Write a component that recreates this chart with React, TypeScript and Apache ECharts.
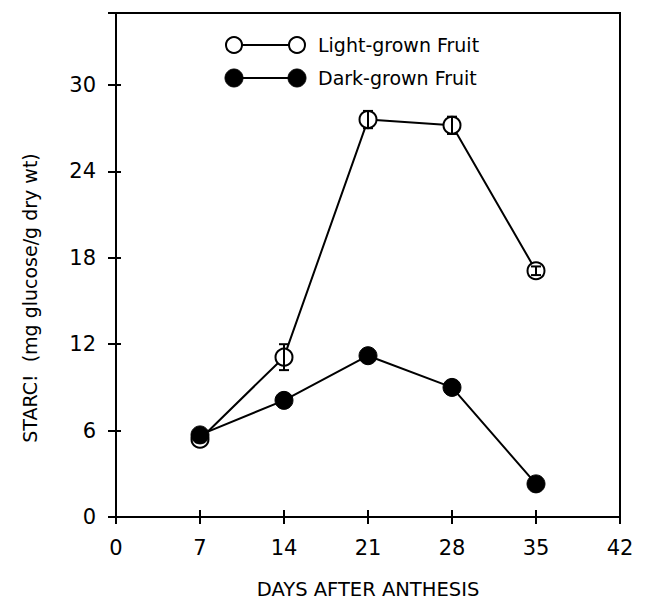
import React, { useEffect, useRef } from "react";
import * as echarts from "echarts";

const days = [7, 14, 21, 28, 35];
const lightValues = [5.4, 11.1, 27.6, 27.2, 17.1];
const lightErrors = [0.2, 0.9, 0.6, 0.6, 0.3];
const darkValues = [5.7, 8.1, 11.2, 9.0, 2.3];
const xTicks = [0, 7, 14, 21, 28, 35, 42];
const yTicks = [0, 6, 12, 18, 24, 30];

const FONT = "DejaVu Sans";

export default function App() {
  const ref = useRef<HTMLDivElement>(null);
  useEffect(() => {
    if (!ref.current) return;
    const chart = echarts.init(ref.current, null, { renderer: "svg" });
    const lightData = days.map((d, i) => [d, lightValues[i]]);
    const darkData = days.map((d, i) => [d, darkValues[i]]);
    const errData = days.map((d, i) => [d, lightValues[i] - lightErrors[i], lightValues[i] + lightErrors[i]]);
    const axisLine = { show: true, lineStyle: { color: "#000", width: 2 } };
    const xBase = {
      type: "value",
      min: 0,
      max: 42,
      interval: 7,
      gridIndex: 0,
      position: "bottom",
      splitLine: { show: false },
      axisLine,
    };
    const yBase = {
      type: "value",
      min: 0,
      max: 35,
      interval: 6,
      position: "left",
      splitLine: { show: false },
      axisLine,
    };
    chart.setOption({
      animation: false,
      backgroundColor: "#fff",
      grid: {
        left: 116,
        right: 25,
        top: 13,
        bottom: 85,
        show: true,
        borderColor: "#000",
        borderWidth: 2,
        outerBoundsMode: "none",
        containLabel: false,
      },
      xAxis: [
        {
          ...xBase,
          axisTick: { show: true, length: 7, lineStyle: { color: "#000", width: 2 } },
          axisLabel: {
            show: true,
            color: "#000",
            fontFamily: FONT,
            fontSize: 21,
            margin: 20,
            formatter: (v: number) => (xTicks.includes(v) ? String(v) : ""),
          },
          name: "DAYS AFTER ANTHESIS",
          nameLocation: "middle",
          nameGap: 62,
          nameTextStyle: { color: "#000", fontFamily: FONT, fontSize: 19.5 },
        },
        {
          ...xBase,
          axisTick: { show: true, inside: true, length: 7, lineStyle: { color: "#000", width: 2 } },
          axisLabel: { show: false },
        },
      ],
      yAxis: [
        {
          ...yBase,
          axisTick: { show: true, length: 8, lineStyle: { color: "#000", width: 2 } },
          axisLabel: {
            show: true,
            color: "#000",
            fontFamily: FONT,
            fontSize: 21,
            margin: 20,
            formatter: (v: number) => (yTicks.includes(v) ? String(v) : ""),
          },
        },
        {
          ...yBase,
          axisTick: { show: true, inside: true, length: 5, lineStyle: { color: "#000", width: 2 } },
          axisLabel: { show: false },
        },
      ],
      graphic: [
        {
          type: "text",
          x: 30,
          y: 298,
          rotation: Math.PI / 2,
          style: {
            text: "STARC!  (mg glucose/g dry wt)",
            fill: "#000",
            font: `19px "${FONT}"`,
            align: "center",
            verticalAlign: "middle",
          },
        },
        { type: "line", shape: { x1: 240, y1: 45, x2: 290, y2: 45 }, style: { stroke: "#000", lineWidth: 2 } },
        { type: "circle", shape: { cx: 234, cy: 45, r: 8 }, style: { fill: "#fff", stroke: "#000", lineWidth: 2 } },
        { type: "circle", shape: { cx: 297, cy: 45, r: 8 }, style: { fill: "#fff", stroke: "#000", lineWidth: 2 } },
        {
          type: "text",
          x: 318,
          y: 45,
          style: { text: "Light-grown Fruit", fill: "#000", font: `19px "${FONT}"`, verticalAlign: "middle" },
        },
        { type: "line", shape: { x1: 240, y1: 78, x2: 290, y2: 78 }, style: { stroke: "#000", lineWidth: 2 } },
        { type: "circle", shape: { cx: 234, cy: 78, r: 9 }, style: { fill: "#000", stroke: "#000", lineWidth: 1 } },
        { type: "circle", shape: { cx: 297, cy: 78, r: 9 }, style: { fill: "#000", stroke: "#000", lineWidth: 1 } },
        {
          type: "text",
          x: 318,
          y: 78,
          style: { text: "Dark-grown Fruit", fill: "#000", font: `19px "${FONT}"`, verticalAlign: "middle" },
        },
      ],
      series: [
        {
          name: "Light-grown Fruit",
          type: "line",
          data: lightData,
          symbol: "circle",
          symbolSize: 17,
          lineStyle: { color: "#000", width: 2 },
          itemStyle: { color: "#fff", borderColor: "#000", borderWidth: 2 },
          z: 2,
        },
        {
          name: "err",
          type: "custom",
          data: errData,
          z: 3,
          renderItem: (params: any, api: any) => {
            const x = api.value(0);
            const lo = api.coord([x, api.value(1)]);
            const hi = api.coord([x, api.value(2)]);
            const cap = 5;
            const style = { stroke: "#000", lineWidth: 2 };
            return {
              type: "group",
              children: [
                { type: "line", shape: { x1: lo[0], y1: lo[1], x2: hi[0], y2: hi[1] }, style },
                { type: "line", shape: { x1: lo[0] - cap, y1: lo[1], x2: lo[0] + cap, y2: lo[1] }, style },
                { type: "line", shape: { x1: hi[0] - cap, y1: hi[1], x2: hi[0] + cap, y2: hi[1] }, style },
              ],
            };
          },
        },
        {
          name: "Dark-grown Fruit",
          type: "line",
          data: darkData,
          symbol: "circle",
          symbolSize: 18,
          lineStyle: { color: "#000", width: 2 },
          itemStyle: { color: "#000", borderColor: "#000", borderWidth: 1 },
          z: 4,
        },
      ],
    });
    return () => chart.dispose();
  }, []);
  return (
    <div
      ref={ref}
      style={{ position: "fixed", left: 0, top: 0, width: 645, height: 602, background: "#fff" }}
    />
  );
}
